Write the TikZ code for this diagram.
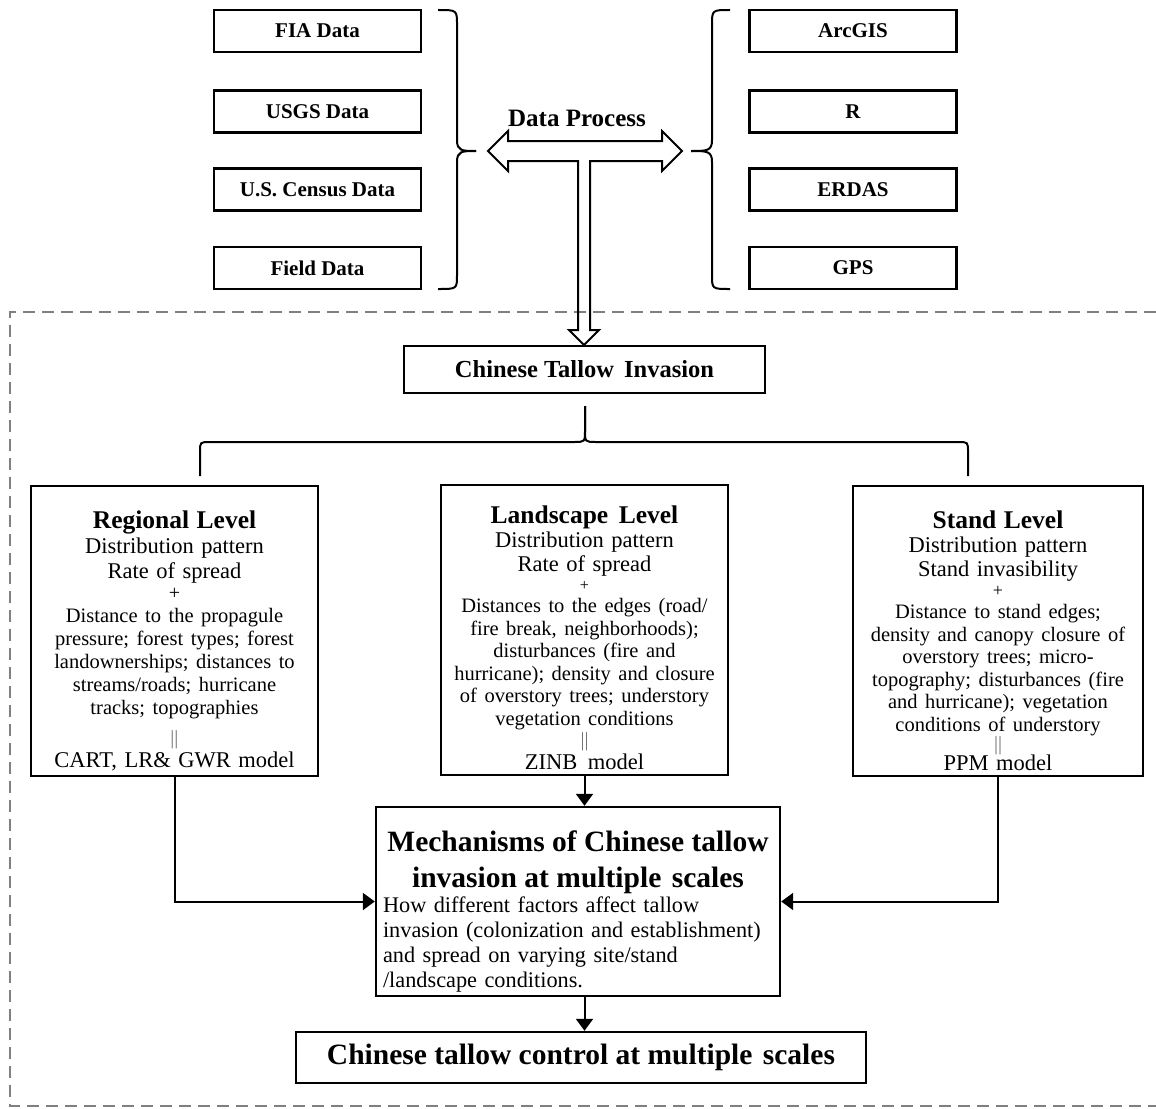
\documentclass[tikz,border=0pt]{standalone}
\usepackage{fontspec}
\setmainfont{Liberation Serif}
\usetikzlibrary{arrows.meta}
\begin{document}
\begin{tikzpicture}[x=1pt,y=-1pt,
  topbox/.style={draw, line width=2.2pt, minimum width=207pt, minimum height=42pt, inner sep=0pt, font=\fontsize{21}{24}\selectfont\bfseries},
  levelbox/.style={draw, line width=2.4pt, inner xsep=2pt, inner ysep=0pt, align=center, minimum height=290pt},
  conn/.style={line width=2pt, -{Triangle[length=12pt,width=17pt]}},
  bracket/.style={line width=2pt},
  hollow/.style={line width=2pt, line join=miter},
  frame/.style={draw=black!50, line width=2pt, dash pattern=on 12pt off 7pt}]
\useasboundingbox (0,0) rectangle (1156,1108);

% dashed frame (right side lies outside the picture)
\draw[frame] (1156,312) -- (10,312) -- (10,1106) -- (1156,1106);

% data sources
\node[topbox] (fia)    at (317.5,31)    {FIA Data};
\node[topbox] (usgs)   at (317.5,111.5) {USGS Data};
\node[topbox] (census) at (317.5,189.5) {U.S. Census Data};
\node[topbox] (field)  at (317.5,268)   {Field Data};
% tools
\node[topbox] (arcgis) at (853,31)    {ArcGIS};
\node[topbox] (rtool)  at (853,111.5) {R};
\node[topbox] (erdas)  at (853,189.5) {ERDAS};
\node[topbox] (gps)    at (853,268)   {GPS};

% braces
\draw[bracket] (438,10) .. controls (457,10) .. (457,25) -- (457,140) .. controls (457,151) and (462,151) .. (476,151);
\draw[bracket] (476,151) .. controls (462,151) and (457,151) .. (457,162) -- (457,275) .. controls (457,289) .. (438,289);
\draw[bracket] (730,10) .. controls (712,10) .. (712,25) -- (712,140) .. controls (712,151) and (707,151) .. (691,151);
\draw[bracket] (691,151) .. controls (707,151) and (712,151) .. (712,162) -- (712,275) .. controls (712,289) .. (730,289);

% data process label and hollow T arrow
\node[font=\fontsize{25}{27}\selectfont\bfseries, anchor=base, inner sep=0pt] (dp) at (577,126) {Data Process};
\draw[hollow] (488,151) -- (508,131) -- (508,141) -- (662,141) -- (662,131) -- (682,151) -- (662,171) -- (662,161)
  -- (590,161) -- (590,330) -- (599,330) -- (584,345) -- (569,330) -- (578,330) -- (578,161)
  -- (508,161) -- (508,171) -- cycle;

% Chinese Tallow Invasion
\node[draw, line width=2.4pt, minimum width=361pt, minimum height=47pt, inner sep=0pt,
  font=\fontsize{24.5}{26}\selectfont\bfseries] (invasion) at (584.5,369.5) {Chinese Tallow\hspace{4pt} Invasion};

% big brace
\draw[bracket] (200,476) -- (200,452) .. controls (200,442) .. (210,442) -- (574,442) .. controls (585,442) .. (585,430) -- (585,406);
\draw[bracket] (585,406) -- (585,430) .. controls (585,442) .. (596,442) -- (958,442) .. controls (968,442) .. (968,452) -- (968,476);

% level boxes
\node[levelbox, text width=283pt, font=\fontsize{22.5}{23}\selectfont] (regional) at (174.5,631) {%
{\fontsize{25.5}{26}\selectfont\bfseries\rule{0pt}{37pt}Regional Level\par}%
{\fontsize{22.5}{25}\selectfont Distribution pattern\\ Rate of spread\par}%
{\fontsize{20}{21}\selectfont +\par}%
{\fontsize{20.5}{23}\selectfont Distance to the propagule\\ pressure; forest types;\ forest\\ landownerships; distances to\\ streams/roads; hurricane\\ tracks; topographies\par}%
{\fontsize{20}{30}\selectfont\color{black!55}||\par}%
CART, LR\& GWR model};

\node[levelbox, text width=283pt, font=\fontsize{22.5}{23}\selectfont] (landscape) at (584.5,630) {%
{\fontsize{25.5}{26}\selectfont\bfseries\rule{0pt}{33pt}Landscape\hspace{3pt} Level\par}%
{\fontsize{22.5}{24}\selectfont Distribution pattern\\ Rate of spread\par}%
{\fontsize{16}{19}\selectfont +\par}%
{\fontsize{20.5}{22.5}\selectfont Distances to the edges (road/\\ fire break, neighborhoods);\\ disturbances (fire and\\ hurricane); density and closure\\ of overstory trees; understory\\ vegetation conditions\par}%
{\fontsize{20}{21}\selectfont\color{black!55}||\par}%
ZINB\hspace{3pt} model};

\node[levelbox, text width=286pt, font=\fontsize{22.5}{20}\selectfont] (stand) at (998,631) {%
{\fontsize{25.5}{26}\selectfont\bfseries\rule{0pt}{37pt}Stand Level\par}%
{\fontsize{22.5}{24}\selectfont Distribution pattern\\ Stand invasibility\par}%
{\fontsize{18}{20}\selectfont +\par}%
{\fontsize{20.5}{22.5}\selectfont Distance to stand edges;\\ density and canopy closure of\\ overstory trees; micro-\\ topography; disturbances (fire\\ and hurricane); vegetation\\ conditions of understory\par}%
{\fontsize{20}{19}\selectfont\color{black!55}||\par}%
PPM model};

% mechanisms
\node[draw, line width=2.4pt, text width=390pt, inner xsep=7pt, inner ysep=0pt, minimum height=189pt, align=left,
  font=\fontsize{22.3}{25}\selectfont] (mech) at (578,901.5) {%
{\centering\fontsize{29.5}{36}\selectfont\bfseries\rule{0pt}{41pt}Mechanisms of Chinese tallow\\ invasion at multiple\hspace{3pt} scales\par}%
How different factors affect tallow\\ invasion (colonization and establishment)\\ and spread on varying site/stand\\ /landscape conditions.};

% control
\node[draw, line width=2.4pt, minimum width=570pt, minimum height=51pt, inner sep=0pt,
  font=\fontsize{29.5}{31}\selectfont\bfseries] (control) at (581,1057.5) {Chinese tallow control at multiple\hspace{3pt} scales};

% connectors
\draw[conn] (regional.south) |- (mech.west);
\draw[conn] (stand.south) |- (mech.east);
\draw[conn] (landscape.south) -- (landscape.south |- mech.north);
\draw[conn] (landscape.south |- mech.south) -- (landscape.south |- control.north);
\end{tikzpicture}
\end{document}
